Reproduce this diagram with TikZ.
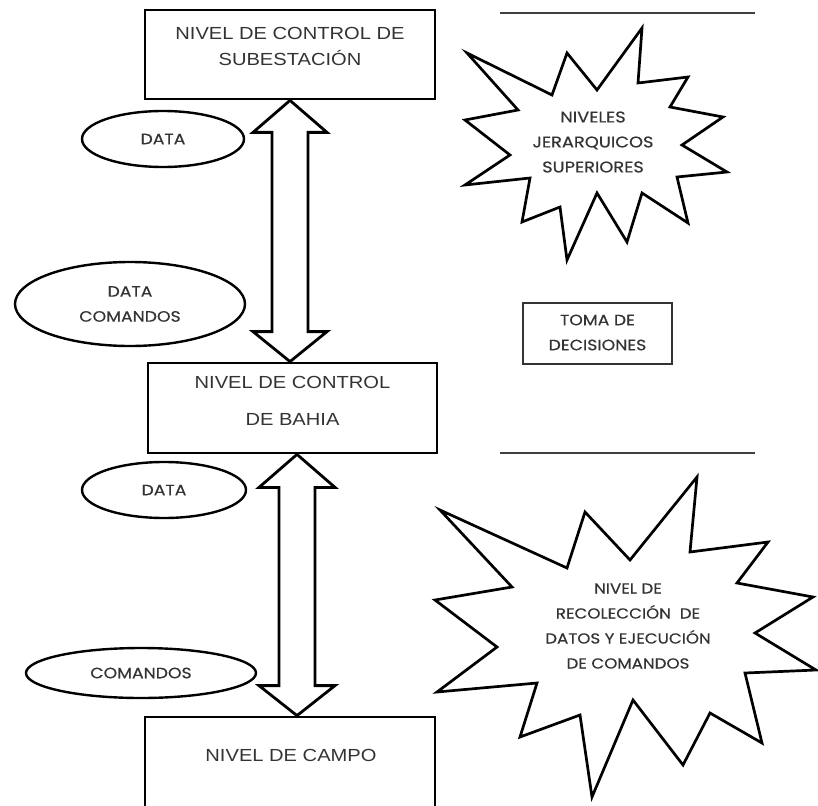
\documentclass[tikz,border=0pt]{standalone}
\usepackage{fontspec}
\setmainfont{Liberation Sans}
\newfontfamily\boxfont[FakeStretch=1.15]{Liberation Sans}
\newfontfamily\roundfont[FakeStretch=1.15,FakeBold=0.4]{Poppins}
\usetikzlibrary{shapes.geometric,calc}
\begin{document}
\begin{tikzpicture}[x=1pt,y=-1pt,
  lvlbox/.style={draw, line width=2.8pt, rectangle, inner sep=0pt},
  lvltext/.style={font=\boxfont\fontsize{17.5}{#1}\selectfont, align=center, text=black!80, inner sep=0pt},
  bubble/.style={draw, ellipse, line width=2.4pt, inner sep=0pt, align=center, text=black!80,
                 font=\roundfont\fontsize{15}{25}\selectfont},
  smalltext/.style={font=\roundfont\fontsize{#1}{25}\selectfont, align=center, text=black!80, inner sep=0pt},
  blockarrow/.style={draw, line width=2.8pt, line join=miter, fill=white},
  rulerline/.style={line width=1.6pt, black!75},
  starshape/.style={draw, line width=2.7pt, line join=miter, fill=white},
  decbox/.style={draw, line width=1.8pt, rectangle, inner sep=0pt, black!80}
]
\useasboundingbox (0,0) rectangle (818,805);

% level boxes
\node[lvlbox, minimum width=290, minimum height=89] (sub) at (290,54.5) {};
\node[lvltext=26] (subtxt) at (290,46) {NIVEL DE CONTROL DE\\SUBESTACIÓN};
\node[lvlbox, minimum width=289, minimum height=90] (bahia) at (292.5,408) {};
\node[lvltext=37] (bahiatxt) at (292.5,400.5) {NIVEL DE CONTROL\\DE BAHIA};
\node[lvlbox, minimum width=290, minimum height=110] (campo) at (290,772) {};
\node[lvltext=26] (campotxt) at (291,755) {NIVEL DE CAMPO};

% upper double block arrow
\coordinate (ut) at (sub.south);
\coordinate (ub) at (ut |- bahia.north);
\draw[blockarrow] (ut) -- ++(37,32) -- ++(-19,0) -- ($(ub)+(18,-30)$) -- ++(19,0)
  -- (ub) -- ++(-37,-30) -- ++(19,0) -- ($(ut)+(-18,32)$) -- ++(-19,0) -- cycle;

% lower double block arrow
\coordinate (lt) at ($(bahia.south)+(4.5,0)$);
\coordinate (lb) at (lt |- campo.north);
\draw[blockarrow] (lt) -- ++(38,33) -- ++(-20,0) -- ($(lb)+(18,-30)$) -- ++(20,0)
  -- (lb) -- ++(-38,-30) -- ++(20,0) -- ($(lt)+(-18,33)$) -- ++(-20,0) -- cycle;

% ellipses
\node[bubble, minimum width=162, minimum height=56] (e1) at (163,139) {DATA};
\node[bubble, minimum width=230, minimum height=84] (e2) at (130,304) {DATA\\COMANDOS};
\node[bubble, minimum width=164, minimum height=56] (e3) at (164,490) {DATA};
\node[bubble, minimum width=230, minimum height=50] (e4) at (141,673) {COMANDOS};

% horizontal rules
\coordinate (r1a) at (500,13); \coordinate (r1b) at (755,13);
\coordinate (r2a) at (500,453); \coordinate (r2b) at (755,453);
\draw[rulerline] (r1a) -- (r1b);
\draw[rulerline] (r2a) -- (r2b);

% decision box
\node[decbox, minimum width=149, minimum height=61] (toma) at (597.5,333.5) {};
\node[smalltext=15] (tomatxt) at (597.5,332.5) {TOMA DE\\DECISIONES};

% upper starburst
\draw[starshape] (467,53) -- (552,95) -- (567,53) -- (597,90) -- (642,28) -- (638,83)
  -- (688,77) -- (670,107) -- (723,117) -- (682,145) -- (727,172) -- (677,177)
  -- (688,223) -- (642,193) -- (627,242) -- (597,193) -- (567,260) -- (560,207)
  -- (522,222) -- (530,178) -- (465,185) -- (510,155) -- (465,120) -- (518,110) -- cycle;
\node[smalltext=15.5] (star1) at (593,142) {NIVELES\\JERARQUICOS\\SUPERIORES};

% lower starburst
\draw[starshape] (440,510) -- (567,568) -- (585,512) -- (630,560) -- (697,477) -- (690,552)
  -- (768,542) -- (737,583) -- (813,597) -- (755,633) -- (816,670) -- (745,673)
  -- (762,743) -- (710,713) -- (683,765) -- (633,700) -- (592,797) -- (580,715)
  -- (520,737) -- (537,683) -- (437,692) -- (497,647) -- (435,600) -- (512,587) -- cycle;
\node[smalltext=14.5] (star2) at (628,626) {NIVEL DE\\RECOLECCIÓN\ \ DE\\DATOS Y EJECUCIÓN\\DE COMANDOS};
\end{tikzpicture}
\end{document}
